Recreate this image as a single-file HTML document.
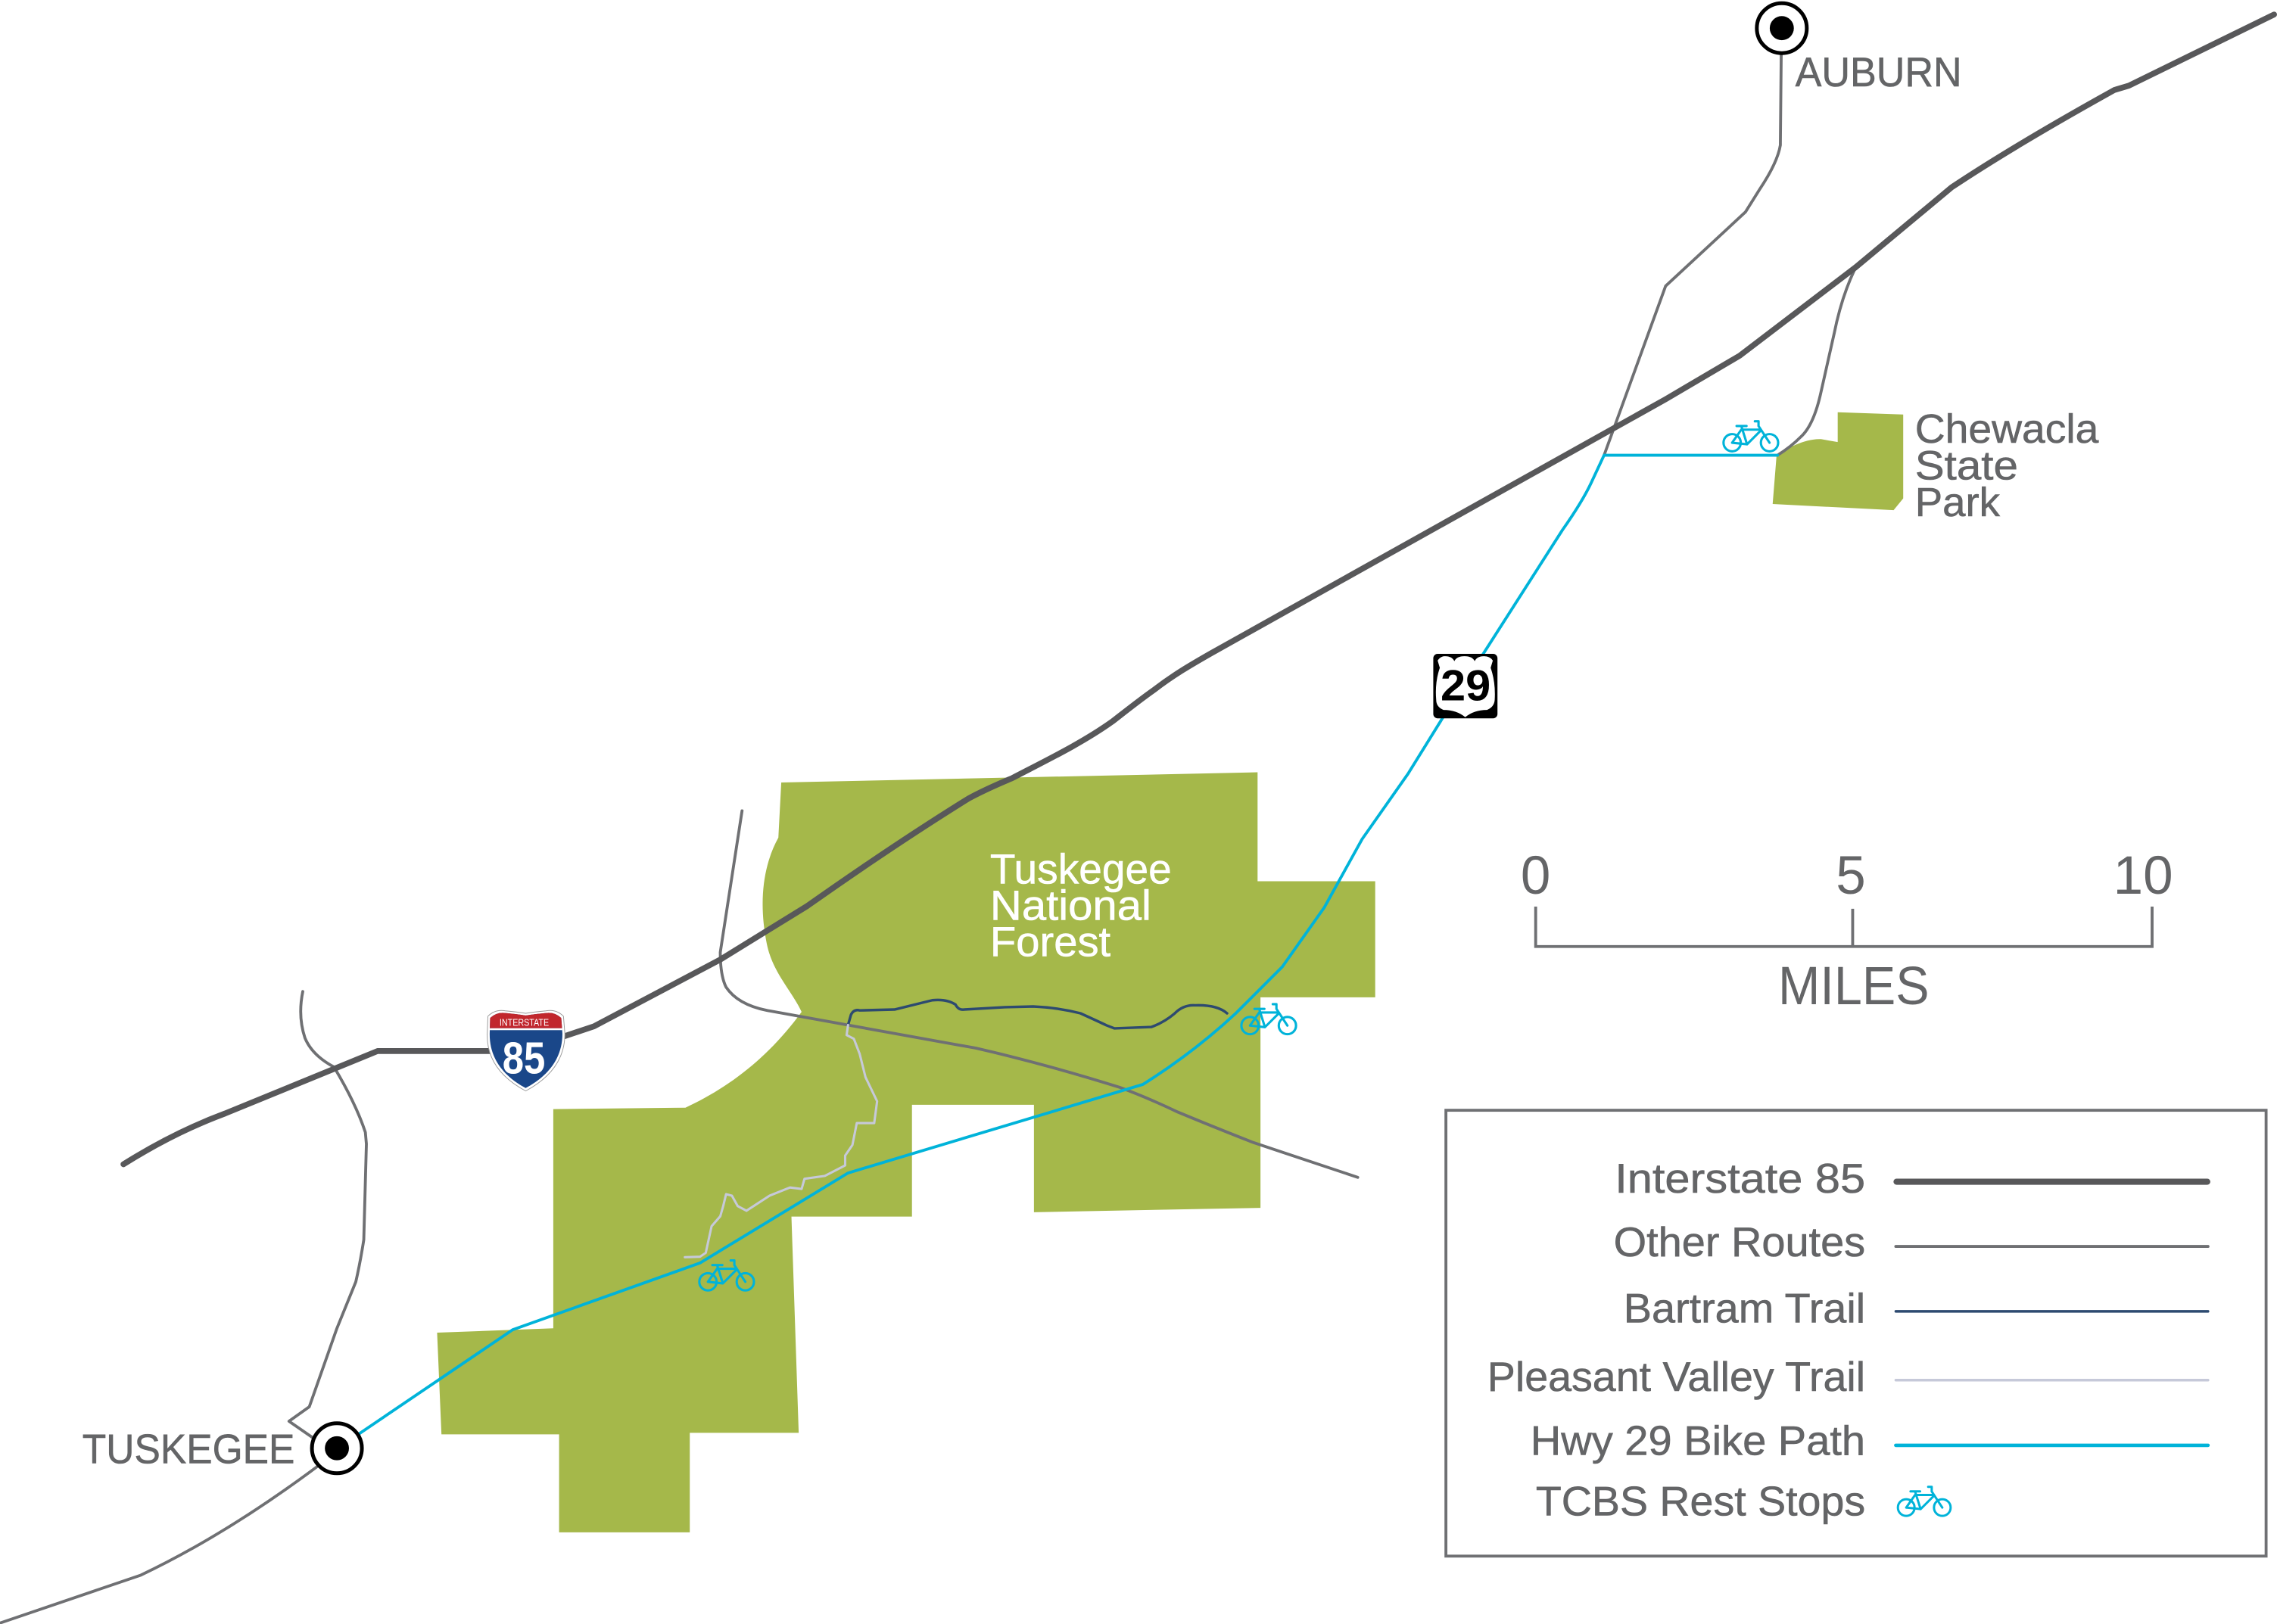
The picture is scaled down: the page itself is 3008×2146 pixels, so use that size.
<!DOCTYPE html>
<html>
<head>
<meta charset="utf-8">
<style>
html,body{margin:0;padding:0;background:#fff;}
svg{display:block;}
text{font-family:"Liberation Sans",sans-serif;}
</style>
</head>
<body>
<svg xmlns="http://www.w3.org/2000/svg" width="3008" height="2146" viewBox="0 0 1568 1118.67">
<rect x="0" y="0" width="1568" height="1118.67" fill="#ffffff"/>

<!-- Tuskegee National Forest -->
<path fill="#a5b84a" d="M538,539 L866,532 L866,607 L947,607 L947,687 L868,687 L868,832 L712,835 L712,761 L628,761 L628,838 L545,838 L550,987 L475,987 L475,1055.5 L385,1055.5 L385,988 L304,988 L301,918 L381,915 L381,764 L472,763 C500,750 528,730 552,697 C545,682 532,670 528,650 C522,620 526,595 536,577 Z"/>

<!-- Chewacla State Park -->
<path fill="#a5b84a" d="M1265.5,284 L1310.6,285.5 L1310.6,343.3 L1304,351.4 L1220.7,347.2 L1223.4,313.7 C1230,309 1243,302 1254,302.5 L1265.5,304.5 Z"/>

<!-- Other routes -->
<g fill="none" stroke="#6f7073" stroke-width="2" stroke-linecap="round" stroke-linejoin="round">
  <path d="M1226.6,37 L1226,100 Q1224,112 1212,130 L1202,146 L1147,197 L1104.6,313.6"/>
  <path d="M1277,186 Q1268,205 1263,230 L1254,270 Q1249,293 1240,301 Q1233,308 1224,313.6"/>
  <path d="M208.5,683 Q205,700 210,715 Q215,727 230,735 Q245,760 251.6,780 L252.3,788 L250.5,854 Q248,870 245,883 L232,915 L213,969 L199,979 L225,997"/>
  <path d="M511,558.5 L496,656 Q496,672 500,680 Q508,692 528,696 L672,722 Q720,733 771,749 Q790,756 811,766 Q835,776 863,787 L935,811"/>
  <path d="M228,1003 Q160,1055 97,1085 L0,1118"/>
</g>

<!-- Interstate 85 -->
<path fill="none" stroke="#58585a" stroke-width="4" stroke-linecap="round" stroke-linejoin="round"
 d="M85,802 Q120,780 155,767 L260,724 L340,724 M385,715 L409,707 L496,661 L556,624 C590,600 630,573 667,550 C680,543 690,539 697,536 C720,524 745,512 766,497 C775,490 785,482 795,475 C808,465 820,458 834,450 L1147,275 L1198,245 L1278,184 L1344,129 C1380,105 1420,82 1456,62 L1466,59 L1566,10"/>

<!-- Bartram Trail -->
<path fill="none" stroke="#2d4a70" stroke-width="1.8" stroke-linecap="round" stroke-linejoin="round"
 d="M584,706 L586,699 Q588,695 592,696 L616,695.4 Q630,692 642,689 Q652,688 658,692 Q660,696 664,695.4 L692,693.8 L711.5,693.3 Q728,694 744,698 Q755,703 762,706.3 L767.5,708.4 L793,707.4 Q802,704 809,698 Q815,692 823,692.5 Q838,692 845,698"/>

<!-- Pleasant Valley Trail -->
<path fill="none" stroke="#c6c9d9" stroke-width="1.6" stroke-linecap="round" stroke-linejoin="round"
 d="M584,706 L583,713 L588,715.6 L592,726 L596,742 L604,758.6 L602,773.6 L590,773.6 L587,788.7 L582,796 L582,802.8 L568,810 L554,812 L552,819 L544,818 L530,823.6 L514,834 L508,830.8 L504,823.6 L500,822.6 L498,830.8 L496,837.8 L490,844.7 L486,863 L482,865.7 L471.6,866"/>

<!-- Hwy 29 Bike Path -->
<path fill="none" stroke="#00b3d9" stroke-width="2" stroke-linecap="round" stroke-linejoin="round"
 d="M232,998 L353,916 L482,870 Q535,838 584,808 L787,747 Q822,725 851,698 L883,666 L912,625 L938,578 L969.6,533 L995,492 L1021,451 L1076,365 Q1090,345 1096,332 L1104.6,313.6 L1224,313.6"/>

<!-- City markers -->
<circle cx="1227" cy="19.4" r="17.2" fill="#fff" stroke="#000" stroke-width="2.6"/>
<circle cx="1227" cy="19.4" r="8.3" fill="#000"/>
<circle cx="232" cy="997.6" r="17.2" fill="#fff" stroke="#000" stroke-width="2.6"/>
<circle cx="232" cy="997.6" r="8.3" fill="#000"/>

<!-- I-85 shield -->
<defs>
  <clipPath id="shieldIn">
    <path d="M337.5,701.2 Q342,697 348,697.8 Q356,698.5 362,699.5 Q368,698.5 376,697.8 Q382,697 386.5,701.2 L387.3,712 C387.3,731 375,742.5 362,749.5 C349,742.5 337,731 337.2,712 Z"/>
  </clipPath>
</defs>
<path d="M336,700 Q341,695 348,696.3 Q356,697 362,698 Q368,697 376,696.3 Q383,695 388,700 L389,712 C389,732 376,744 362,751.5 C348,744 335,732 335.5,712 Z" fill="#fff" stroke="#9a9a9a" stroke-width="0.5"/>
<g clip-path="url(#shieldIn)">
  <rect x="330" y="690" width="65" height="70" fill="#1a4789"/>
  <rect x="330" y="690" width="65" height="18.3" fill="#c1272d"/>
  <rect x="330" y="708.3" width="65" height="1.3" fill="#fff"/>
</g>
<text x="344" y="706.6" font-size="6.8" fill="#fff" textLength="34" lengthAdjust="spacingAndGlyphs">INTERSTATE</text>
<text x="346" y="739.4" font-size="31" font-weight="bold" fill="#fff" textLength="29.5" lengthAdjust="spacingAndGlyphs">85</text>

<!-- US 29 shield -->
<rect x="987" y="450.4" width="44.2" height="44.4" rx="3" fill="#000"/>
<path fill="#fff" d="M990,455 Q992,452 995,452 Q1000,452 1001.5,455.5 Q1003,452 1008.5,452 Q1014,452 1015.5,455.5 Q1017,452 1022,452 Q1026,452 1028,455 L1026.5,460 Q1030,470 1029.3,482 Q1029,487 1024,489 Q1015,489 1009,494 Q1003,489 994,489 Q989,487 989,482 Q988,470 991.5,460 Z"/>
<text x="992" y="482.5" font-size="30" font-weight="bold" fill="#000" textLength="34.5" lengthAdjust="spacingAndGlyphs">29</text>

<!-- Bike icons -->
<g fill="none" stroke="#00b3d9" stroke-width="9" stroke-linecap="round" stroke-linejoin="round" transform="translate(1177.5,284.8) scale(0.18)">
  <circle cx="85" cy="112" r="33"/><circle cx="228" cy="112" r="33"/>
  <path d="M85,112 L120,62 L192,62 M120,48 L142,118 L85,112 M142,118 L194,66 M186,48 L228,112 M172,30 L186,30 L186,48 M102,48 L140,48"/>
</g>
<g fill="none" stroke="#00b3d9" stroke-width="9" stroke-linecap="round" stroke-linejoin="round" transform="translate(845.5,686.3) scale(0.18)">
  <circle cx="85" cy="112" r="33"/><circle cx="228" cy="112" r="33"/>
  <path d="M85,112 L120,62 L192,62 M120,48 L142,118 L85,112 M142,118 L194,66 M186,48 L228,112 M172,30 L186,30 L186,48 M102,48 L140,48"/>
</g>
<g fill="none" stroke="#00b3d9" stroke-width="9" stroke-linecap="round" stroke-linejoin="round" transform="translate(472.2,862.8) scale(0.18)">
  <circle cx="85" cy="112" r="33"/><circle cx="228" cy="112" r="33"/>
  <path d="M85,112 L120,62 L192,62 M120,48 L142,118 L85,112 M142,118 L194,66 M186,48 L228,112 M172,30 L186,30 L186,48 M102,48 L140,48"/>
</g>

<!-- Map labels -->
<g fill="#646567" stroke="#646567" stroke-width="0.3" font-size="28.5">
  <text x="1236.3" y="59.3" textLength="114.7" lengthAdjust="spacingAndGlyphs">AUBURN</text>
  <text x="56.7" y="1008" textLength="146.3" lengthAdjust="spacingAndGlyphs">TUSKEGEE</text>
</g>
<g fill="#646567" stroke="#646567" stroke-width="0.3" font-size="28">
  <text x="1318.7" y="304.9" textLength="126.5" lengthAdjust="spacingAndGlyphs">Chewacla</text>
  <text x="1318.7" y="330.2" textLength="71" lengthAdjust="spacingAndGlyphs">State</text>
  <text x="1318.7" y="355.5" textLength="58.5" lengthAdjust="spacingAndGlyphs">Park</text>
</g>
<g fill="#ffffff" stroke="#ffffff" stroke-width="0.3" font-size="29">
  <text x="681.8" y="608.5" textLength="125" lengthAdjust="spacingAndGlyphs">Tuskegee</text>
  <text x="681.8" y="633.7" textLength="111" lengthAdjust="spacingAndGlyphs">National</text>
  <text x="681.8" y="658.6" textLength="83" lengthAdjust="spacingAndGlyphs">Forest</text>
</g>

<!-- Scale bar -->
<path fill="none" stroke="#6f7073" stroke-width="2" d="M1057.5,624.5 L1057.5,652 L1482,652 L1482,624.5 M1275.8,626 L1275.8,652"/>
<g fill="#646567" font-size="37" text-anchor="middle">
  <text x="1057.5" y="615.6">0</text>
  <text x="1274.5" y="615.6">5</text>
  <text x="1475.8" y="615.6">10</text>
</g>
<text x="1224.5" y="691.7" font-size="37" fill="#646567" textLength="104" lengthAdjust="spacingAndGlyphs">MILES</text>

<!-- Legend -->
<rect x="995.7" y="764.8" width="564.8" height="307.1" fill="none" stroke="#6f7073" stroke-width="2"/>
<g fill="#646567" stroke="#646567" stroke-width="0.3" font-size="28.5">
  <text x="1112" y="821.5" textLength="172.5" lengthAdjust="spacingAndGlyphs">Interstate 85</text>
  <text x="1111.2" y="865.2" textLength="173.3" lengthAdjust="spacingAndGlyphs">Other Routes</text>
  <text x="1118" y="911" textLength="166.5" lengthAdjust="spacingAndGlyphs">Bartram Trail</text>
  <text x="1024.2" y="958" textLength="260.3" lengthAdjust="spacingAndGlyphs">Pleasant Valley Trail</text>
  <text x="1053.9" y="1002.2" textLength="230.6" lengthAdjust="spacingAndGlyphs">Hwy 29 Bike Path</text>
  <text x="1057.6" y="1043.9" textLength="226.9" lengthAdjust="spacingAndGlyphs">TCBS Rest Stops</text>
</g>
<g stroke-linecap="round" fill="none">
  <line x1="1306" y1="814" x2="1520" y2="814" stroke="#58585a" stroke-width="4.2"/>
  <line x1="1305.5" y1="858.6" x2="1520.5" y2="858.6" stroke="#6f7073" stroke-width="2"/>
  <line x1="1305.5" y1="903.3" x2="1520.5" y2="903.3" stroke="#2d4a70" stroke-width="1.8"/>
  <line x1="1305.5" y1="950.7" x2="1520.5" y2="950.7" stroke="#c6c9d9" stroke-width="1.8"/>
  <line x1="1305.5" y1="995.6" x2="1520.5" y2="995.6" stroke="#00b3d9" stroke-width="2.4"/>
</g>
<g fill="none" stroke="#00b3d9" stroke-width="9" stroke-linecap="round" stroke-linejoin="round" transform="translate(1297.9,1019) scale(0.1738)">
  <circle cx="85" cy="112" r="33"/><circle cx="228" cy="112" r="33"/>
  <path d="M85,112 L120,62 L192,62 M120,48 L142,118 L85,112 M142,118 L194,66 M186,48 L228,112 M172,30 L186,30 L186,48 M102,48 L140,48"/>
</g>
</svg>
</body>
</html>
